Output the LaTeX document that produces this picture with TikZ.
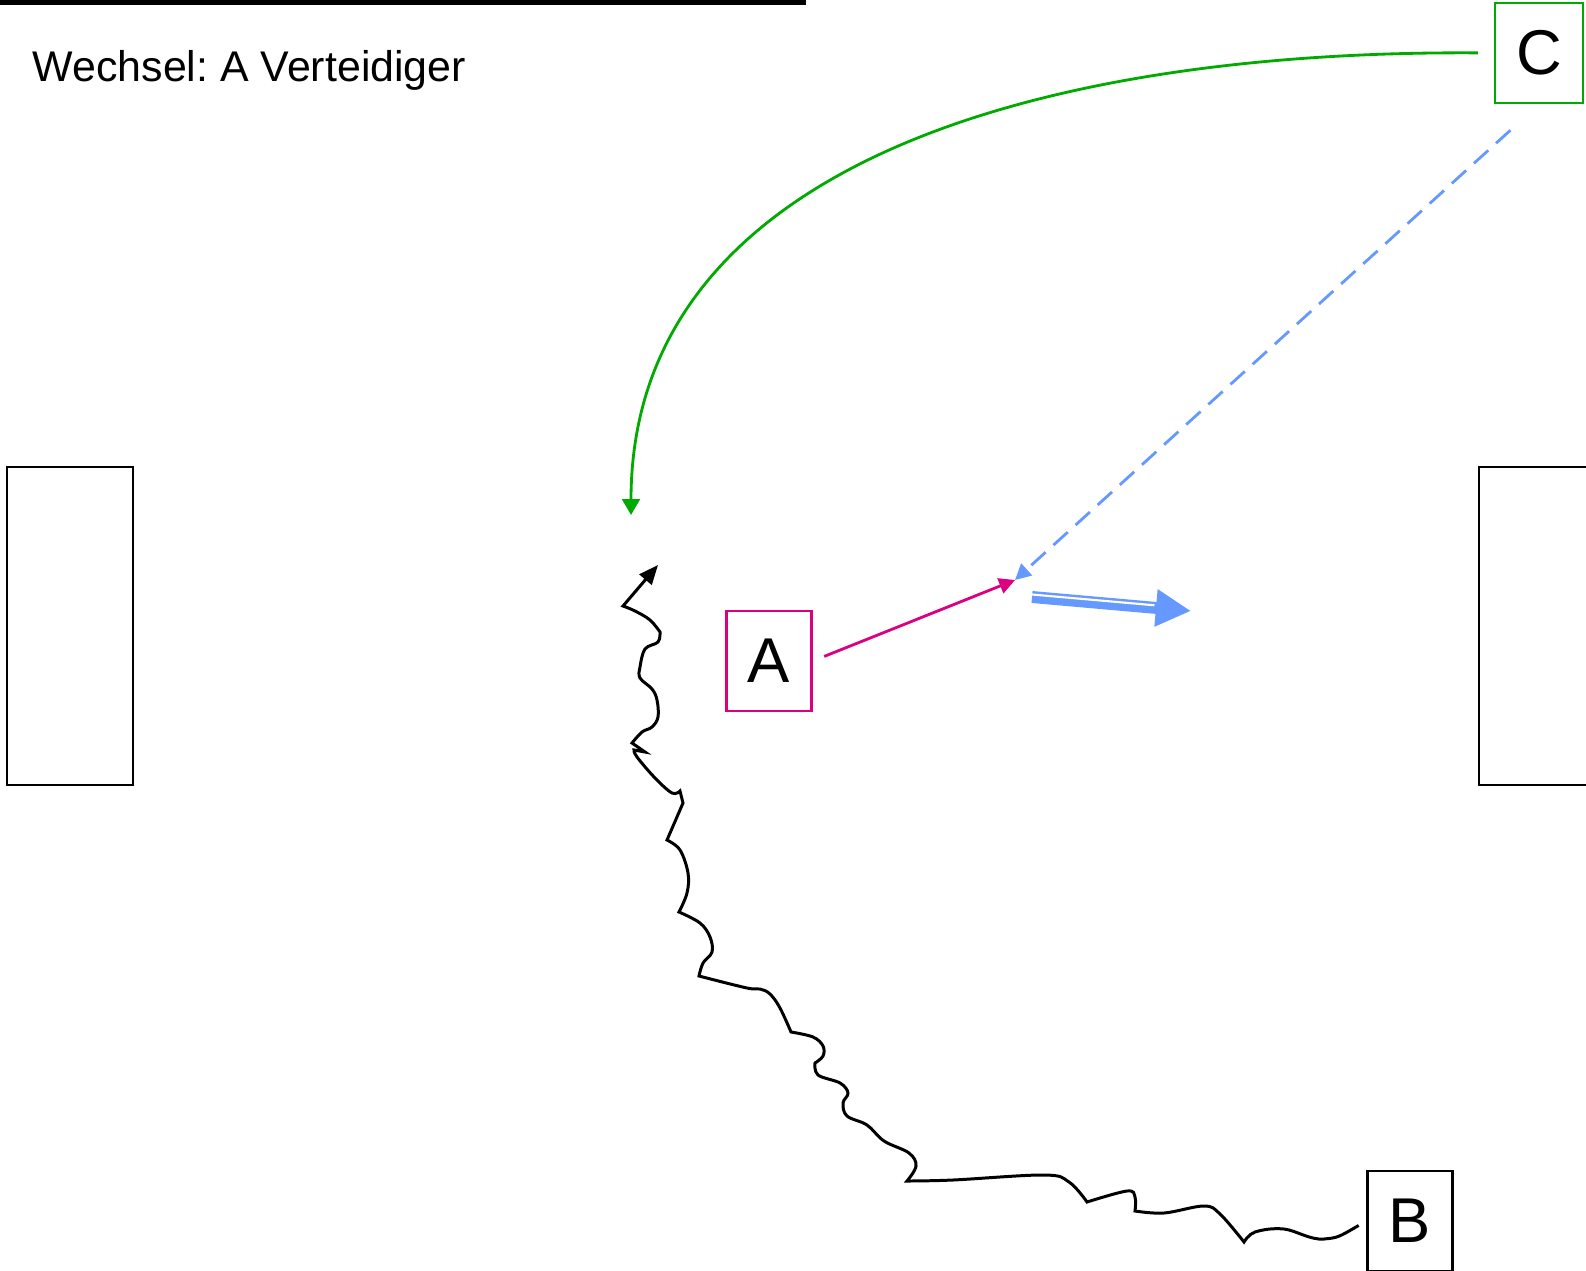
\documentclass[tikz,border=0pt]{standalone}
\usepackage{fontspec}
\setmainfont{Liberation Sans}
\usetikzlibrary{arrows.meta, calc}

\definecolor{passgreen}{RGB}{0,170,0}
\definecolor{movemagenta}{RGB}{220,0,128}
\definecolor{runblue}{RGB}{102,153,255}

\begin{document}
\frenchspacing
\begin{tikzpicture}[
	x=0.01cm, y=-0.01cm,
	player/.style={rectangle, draw=black, line width=0.7pt, minimum width=0.85cm, minimum height=1cm, inner sep=0pt, font=\fontsize{18}{20}\selectfont},
	goalbox/.style={draw=black, line width=0.7pt},
	passline/.style={line width=0.8pt, passgreen, -{Triangle[length=4.5pt, width=5pt]}},
	moveline/.style={line width=0.8pt, movemagenta, -{Triangle[length=4.5pt, width=4.5pt]}},
	runline/.style={line width=0.8pt, runblue, dash pattern=on 5.5pt off 3pt, -{Triangle[length=4.5pt, width=4.5pt]}},
	dribble/.style={line width=0.85pt, black, -{Triangle[length=5.5pt, width=4.5pt]}},
	sprint/.style={line width=3.4pt, runblue, -{Triangle[length=10pt, width=10pt]}}
	]
	
	\path[use as bounding box, clip] (0,0) rectangle (1586,1270);
	
	% title rule and text
	\fill (0,0) rectangle (806,5.5);
	\node[anchor=base west, inner sep=0pt, font=\fontsize{12.2}{15}\selectfont] (title) at (32,82) {Wechsel: A Verteidiger};
	
	% goals
	\draw[goalbox] (7,467) rectangle (133,785);
	\draw[goalbox] (1479,467) rectangle (1600,785);
	
	% players
	\node[player, draw=movemagenta] (A) at (769,661) {A};
	\node[player] (B) at (1410,1221) {B};
	\node[player, draw=passgreen, minimum width=0.88cm] (C) at (1539,53) {C};
	
	\coordinate (recv) at (631,515);
	\coordinate (meet) at (1015,580);
	\coordinate (dribtip) at (658,565);
	\coordinate (sprintS) at (1032,597);
	\coordinate (sprintE) at (1191,611);
	
	\draw[passline, shorten <=4.5pt] (C.west) .. controls (1050,50) and (631,160) .. (recv);
	\draw[runline, shorten <=11pt] (C.south) -- (meet);
	\draw[moveline, shorten <=3.5pt] (A.east) -- (meet);
	
	\draw[sprint] (sprintS) -- (sprintE);
	\draw[white, line width=0.6pt] ($(sprintS)+(0,-2.5)$) -- ($(sprintS)!0.77!(sprintE)+(0,-2.5)$);
	
	% dribbling of B
	\draw[dribble, shorten <=2.5pt] plot[smooth, tension=0.6] coordinates {(B.west) (1324,1239) (1284,1229) (1255,1232) (1244,1242)}
		-- plot[smooth, tension=0.6] coordinates {(1244,1242) (1220,1214) (1204,1206) (1164,1213) (1135,1211)}
		-- plot[smooth, tension=0.6] coordinates {(1135,1211) (1135,1197) (1127,1191) (1087,1202)}
		-- plot[smooth, tension=0.6] coordinates {(1087,1202) (1069,1182) (1044,1175) (953,1180) (907,1181)}
		-- plot[smooth, tension=0.6] coordinates {(907,1181) (916,1166) (909,1153) (884,1141) (867,1125) (847,1116) (843,1103) (848,1093) (840,1083) (818,1075) (815,1063)}
		-- plot[smooth, tension=0.6] coordinates {(815,1063) (823,1056) (823,1046) (813,1037) (791,1032)}
		-- plot[smooth, tension=0.6] coordinates {(791,1032) (780,1008) (770,994) (760,989) (747,988) (699,976)}
		-- plot[smooth, tension=0.6] coordinates {(699,976) (703,963) (712,952) (710,937) (700,923) (679,912)}
		-- plot[smooth, tension=0.6] coordinates {(679,912) (687,893) (688,873) (680,850) (667,840)}
		-- (683,803) -- (680,791)
		-- plot[smooth, tension=0.6] coordinates {(680,791) (672,793) (655,778) (637,757) (634,750)}
		-- (645,752) -- (632,743)
		-- plot[smooth, tension=0.6] coordinates {(632,743) (642,732) (652,727) (658,717) (657,700) (652,689) (640,678) (640,667) (645,649) (658,642) (660,632)}
		-- plot[smooth, tension=0.6] coordinates {(660,632) (650,620) (635,611) (623,606)}
		-- (dribtip);
	
\end{tikzpicture}
\end{document}
